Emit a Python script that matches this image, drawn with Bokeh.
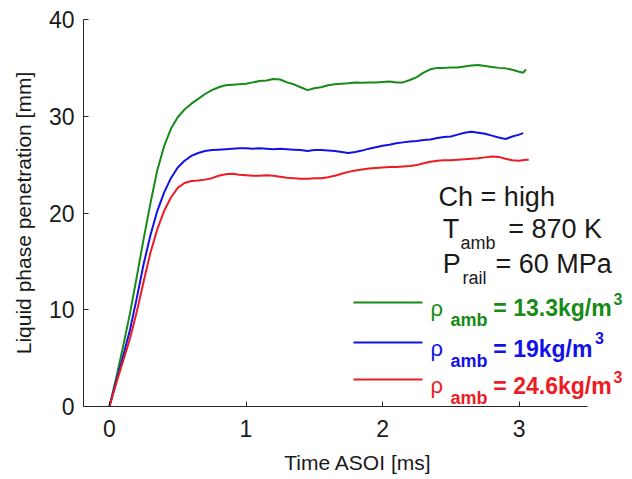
from bokeh.plotting import figure
from bokeh.models import Label, FixedTicker
from bokeh.embed import file_html
from bokeh.resources import INLINE

# Liquid-phase penetration vs. time after start of injection (ASOI)
t_green = [0.00, 0.05, 0.10, 0.15, 0.20, 0.25, 0.30, 0.35, 0.40, 0.45, 0.50, 0.55, 0.60,
           0.65, 0.70, 0.75, 0.80, 0.85, 0.90, 0.95, 1.00, 1.05, 1.10, 1.15, 1.20, 1.25,
           1.30, 1.35, 1.40, 1.45, 1.50, 1.55, 1.60, 1.65, 1.70, 1.75, 1.80, 1.85, 1.90,
           1.95, 2.00, 2.05, 2.10, 2.15, 2.20, 2.25, 2.30, 2.35, 2.40, 2.45, 2.50, 2.55,
           2.60, 2.65, 2.70, 2.75, 2.80, 2.85, 2.90, 2.95, 3.00, 3.03, 3.05]
pen_green = [0.0, 3.0, 6.2, 9.6, 13.4, 17.3, 21.0, 24.4, 26.9, 28.7, 29.9, 30.7, 31.3,
             31.8, 32.3, 32.7, 33.0, 33.2, 33.25, 33.3, 33.35, 33.5, 33.65, 33.7, 33.85, 33.8,
             33.5, 33.3, 33.0, 32.7, 32.9, 33.0, 33.2, 33.3, 33.35, 33.4, 33.5, 33.45, 33.5,
             33.5, 33.55, 33.6, 33.5, 33.5, 33.75, 34.05, 34.5, 34.85, 35.0, 35.0, 35.05, 35.05,
             35.15, 35.25, 35.3, 35.2, 35.1, 35.0, 34.95, 34.8, 34.6, 34.5, 34.85]

t_blue = [0.00, 0.05, 0.10, 0.15, 0.20, 0.25, 0.30, 0.35, 0.40, 0.45, 0.50, 0.55, 0.60,
          0.65, 0.70, 0.75, 0.80, 0.85, 0.90, 0.95, 1.00, 1.05, 1.10, 1.15, 1.20, 1.25,
          1.30, 1.35, 1.40, 1.45, 1.50, 1.55, 1.60, 1.65, 1.70, 1.75, 1.80, 1.85, 1.90,
          1.95, 2.00, 2.05, 2.10, 2.15, 2.20, 2.25, 2.30, 2.35, 2.40, 2.45, 2.50, 2.55,
          2.60, 2.65, 2.70, 2.75, 2.80, 2.85, 2.90, 2.95, 3.00, 3.03]
pen_blue = [0.0, 2.6, 5.2, 7.9, 11.2, 14.7, 17.7, 20.2, 22.1, 23.6, 24.7, 25.4, 25.9,
            26.2, 26.4, 26.5, 26.55, 26.6, 26.65, 26.7, 26.7, 26.65, 26.7, 26.65, 26.6, 26.65,
            26.6, 26.55, 26.5, 26.4, 26.5, 26.5, 26.45, 26.4, 26.3, 26.2, 26.3, 26.45, 26.65,
            26.8, 26.95, 27.05, 27.2, 27.3, 27.4, 27.45, 27.55, 27.6, 27.75, 27.85, 27.9, 28.1,
            28.3, 28.4, 28.3, 28.2, 28.0, 27.8, 27.65, 27.9, 28.1, 28.25]

t_red = [0.00, 0.05, 0.10, 0.15, 0.20, 0.25, 0.30, 0.35, 0.40, 0.45, 0.50, 0.55, 0.60,
         0.65, 0.70, 0.75, 0.80, 0.85, 0.90, 0.95, 1.00, 1.05, 1.10, 1.15, 1.20, 1.25,
         1.30, 1.35, 1.40, 1.45, 1.50, 1.55, 1.60, 1.65, 1.70, 1.75, 1.80, 1.85, 1.90,
         1.95, 2.00, 2.05, 2.10, 2.15, 2.20, 2.25, 2.30, 2.35, 2.40, 2.45, 2.50, 2.55,
         2.60, 2.65, 2.70, 2.75, 2.80, 2.85, 2.90, 2.95, 3.00, 3.05, 3.07]
pen_red = [0.0, 2.4, 4.7, 7.0, 9.8, 12.9, 15.9, 18.3, 20.2, 21.6, 22.6, 23.1, 23.3,
           23.35, 23.45, 23.6, 23.85, 24.0, 24.05, 23.95, 23.9, 23.85, 23.85, 23.9, 23.85, 23.75,
           23.65, 23.6, 23.55, 23.55, 23.6, 23.6, 23.7, 23.85, 24.05, 24.25, 24.4, 24.5, 24.6,
           24.65, 24.7, 24.75, 24.75, 24.8, 24.85, 24.95, 25.15, 25.3, 25.4, 25.45, 25.45, 25.5,
           25.55, 25.6, 25.65, 25.75, 25.85, 25.8, 25.6, 25.45, 25.4, 25.5, 25.5]

x_ticks = [0, 1, 2, 3]
y_ticks = [0, 10, 20, 30, 40]

density_values = ["13.3", "19", "24.6"]
colors = ["#178a17", "#1212e6", "#ec1c24"]

FONT = "Liberation Sans"
INK = "#1a1a1a"

# The frame runs to the right edge of the canvas so the annotation text has room;
# the x axis line itself stops at 3.5 ms.
X_MIN, X_AXIS_END, X_MAX = -0.19, 3.5, 3.83

p = figure(width=632, height=479, x_range=(X_MIN, X_MAX), y_range=(0, 40),
           output_backend="svg", toolbar_location=None,
           min_border_left=83, min_border_right=0, min_border_top=19, min_border_bottom=73)
p.outline_line_color = None
p.xgrid.visible = False
p.ygrid.visible = False
p.background_fill_color = "white"
p.border_fill_color = "white"

for ax in (p.xaxis[0], p.yaxis[0]):
    ax.axis_line_color = "#262626"
    ax.axis_line_width = 1
    ax.major_tick_in = 5
    ax.major_tick_out = 0
    ax.major_tick_line_color = "#262626"
    ax.minor_tick_line_color = None
    ax.major_label_text_font = FONT
    ax.major_label_text_font_size = "23px"
    ax.major_label_text_color = INK
    ax.axis_label_text_font = FONT
    ax.axis_label_text_font_size = "21px"
    ax.axis_label_text_font_style = "normal"
    ax.axis_label_text_color = INK

p.xaxis.bounds = (X_MIN, X_AXIS_END)
p.xaxis.ticker = FixedTicker(ticks=x_ticks)
p.yaxis.ticker = FixedTicker(ticks=y_ticks)
p.xaxis.axis_label = "Time ASOI [ms]"
p.yaxis.axis_label = "Liquid phase penetration [mm]"
p.xaxis.major_label_standoff = 13
p.yaxis.major_label_standoff = 9
p.xaxis.axis_label_standoff = 11
p.yaxis.axis_label_standoff = 11

series = [(t_green, pen_green), (t_blue, pen_blue), (t_red, pen_red)]
for (tt, yy), c in zip(series, colors):
    p.line(tt, yy, line_color=c, line_width=2)

# Operating-condition annotation
def add_text(x, y, text, size, color=INK, style="normal"):
    p.add_layout(Label(x=x, y=y, text=text, text_font=FONT, text_font_size=size,
                       text_color=color, text_font_style=style,
                       text_baseline="alphabetic", text_align="left"))

add_text(2.41, 21.7, "Ch = high", "27px")
add_text(2.44, 18.3, "T", "27px")
add_text(2.57, 16.85, "amb", "18px")
add_text(2.92, 18.3, "= 870 K", "27px")
add_text(2.44, 14.68, "P", "27px")
add_text(2.585, 13.33, "rail", "18px")
add_text(2.826, 14.68, "= 60 MPa", "27px")

# Legend: sample line, rho_amb and density value for each series
leg_line_y = [10.75, 6.61, 2.79]
leg_text_y = [10.13, 5.99, 2.17]
leg_sub_y = [8.89, 4.75, 0.93]
leg_sup_y = [11.16, 7.03, 3.00]
leg_sup_x = [3.69, 3.555, 3.69]
for c, ly, ty, sy, supy, supx, val in zip(colors, leg_line_y, leg_text_y, leg_sub_y,
                                          leg_sup_y, leg_sup_x, density_values):
    p.line([1.787, 2.292], [ly, ly], line_color=c, line_width=2)
    add_text(2.35, ty, "ρ", "22px", color=c)
    add_text(2.497, sy, "amb", "18px", color=c, style="bold")
    add_text(2.811, ty, "= " + val + "kg/m", "23px", color=c, style="bold")
    add_text(supx, supy, "3", "16px", color=c, style="bold")

open("out.html", "w").write(file_html(p, INLINE))
